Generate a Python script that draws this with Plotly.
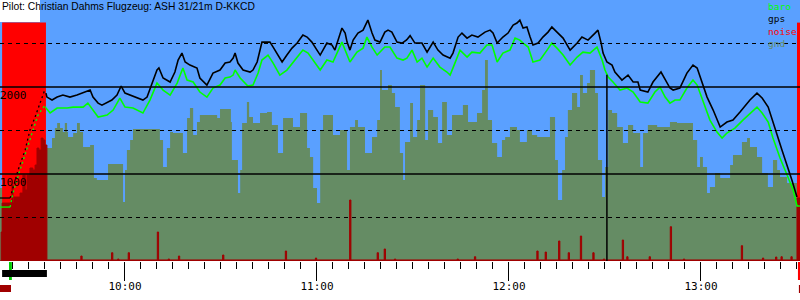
import plotly.graph_objects as go

# ---- time in minutes after 09:00, altitude in metres ----
gps_pre_t = [20.9, 24.1]
gps_pre_alt = [724, 724]
gps_climb_t = [24.1, 25.0, 26.6, 28.8, 30.3, 31.9, 33.4, 34.7, 35.3]
gps_climb_alt = [724, 850, 1046, 1276, 1505, 1655, 1815, 1942, 1930]
gps_t = [35.3, 35.6, 37.2, 38.8, 40.6, 42.8, 45.0, 46.9, 49.1, 50.0, 51.6, 52.8, 54.4, 55.9, 57.5, 58.8,
         60.0, 61.6, 63.8, 65.6, 66.9, 68.4, 70.0, 70.6, 71.9, 74.1, 75.6, 76.6, 77.8, 78.8, 80.3, 82.5,
         83.4, 85.6, 87.5, 89.7, 91.3, 92.8, 93.8, 94.4, 95.3, 96.9, 99.1, 100.0, 101.3, 102.8, 104.4,
         105.3, 106.3, 108.4, 109.1, 110.6, 112.2, 113.8, 115.6, 116.9, 118.4, 120.0, 121.0, 123.1, 124.7,
         125.6, 127.2, 127.8, 128.8, 129.4, 130.3, 131.3, 132.8, 134.4, 135.6, 135.9, 137.2, 138.1, 139.7,
         141.2, 142.2, 143.4, 145.0, 146.6, 148.0, 149.1, 150.6, 152.8, 154.4, 156.3, 157.8, 159.4, 161.6,
         162.5, 164.1, 165.3, 166.9, 168.4, 170.3, 172.5, 174.1, 175.0, 176.3, 178.1, 179.7, 181.3, 182.5,
         183.4, 184.4, 185.6, 186.6, 187.5, 189.1, 190.6, 192.2, 193.4, 195.0, 196.9, 199.1, 201.3, 202.8,
         204.7, 206.9, 207.8, 208.8, 209.4, 210.6, 212.2, 213.1, 215.3, 217.2, 218.8, 220.3, 221.0, 223.4,
         225.0, 227.5, 229.4, 230.3, 231.3, 233.4, 235.6, 237.5, 238.8, 240.3, 241.9, 243.8, 246.0, 248.1,
         250.0, 252.2, 255.3, 257.5, 259.1, 261.0, 262.5, 263.8, 265.3, 266.9, 268.4, 270.0]
gps_alt = [1930, 1884, 1850, 1884, 1907, 1884, 1907, 1930, 1965, 1884, 1815, 1792, 1827, 1850, 1907, 2011,
           1930, 1907, 1884, 1850, 1884, 2045, 2195, 2218, 2103, 2057, 2172, 2310, 2390, 2287, 2252, 2218,
           2103, 2022, 2160, 2195, 2275, 2287, 2332, 2390, 2275, 2195, 2172, 2195, 2287, 2516, 2516,
           2516, 2459, 2332, 2287, 2367, 2447, 2505, 2597, 2574, 2516, 2424, 2367, 2505, 2482,
           2424, 2620, 2677, 2620, 2516, 2424, 2539, 2620, 2654, 2746, 2769, 2620, 2539, 2516,
           2631, 2654, 2631, 2516, 2505, 2540, 2590, 2505, 2505, 2401, 2516, 2424, 2367, 2332,
           2390, 2574, 2620, 2562, 2597, 2574, 2631, 2654, 2620, 2505, 2574, 2620, 2712, 2735,
           2769, 2677, 2689, 2574, 2482, 2505, 2574, 2631, 2689, 2631, 2562, 2424, 2505, 2574,
           2539, 2620, 2654, 2505, 2390, 2287, 2252, 2172, 2080, 2137, 2057, 2057, 1965, 1942,
           2057, 2172, 2045, 1988, 1965, 1988, 2160, 2252, 2218, 2045, 1884, 1735, 1540, 1597,
           1620, 1712, 1850, 1930, 1873, 1769, 1586, 1448, 1275, 1103, 931, 735]

baro_pre_t = [20.9, 24.1]
baro_pre_alt = [620, 620]
baro_climb_t = [24.1, 25.0, 27.2, 29.4, 31.3, 32.8, 35.0, 35.3]
baro_climb_alt = [620, 781, 1046, 1298, 1505, 1678, 1792, 1758]
baro_t = [35.3, 36.6, 38.8, 41.9, 43.8, 46.9, 48.4, 50.0, 51.6, 54.4, 56.3, 58.4, 60.0, 62.5, 65.6, 67.8,
          70.0, 71.9, 74.1, 76.3, 78.1, 79.4, 81.3, 83.4, 85.6, 87.5, 89.7, 91.3, 92.8, 93.8, 94.4, 96.0,
          98.4, 100.0, 101.6, 102.8, 104.7, 106.3, 108.4, 110.6, 112.5, 115.6, 117.2, 118.8, 121.0, 123.1,
          125.0, 127.8, 128.8, 130.3, 132.5, 134.4, 135.6, 137.2, 138.8, 141.2, 142.8, 145.0, 146.9, 148.1,
          149.7, 151.3, 152.8, 154.4, 156.3, 158.4, 160.6, 161.6, 163.1, 164.7, 166.9, 168.4, 170.9, 173.1,
          174.7, 176.3, 178.1, 180.3, 181.9, 183.4, 184.4, 186.0, 187.5, 189.7, 191.9, 193.4, 195.0, 196.9,
          199.1, 201.3, 203.1, 205.3, 207.5, 209.1, 210.0, 211.0, 212.5, 214.7, 216.9, 218.8, 221.0, 223.4,
          225.6, 227.2, 228.8, 230.3, 231.9, 233.4, 235.6, 237.5, 238.8, 240.6, 242.8, 245.0, 246.6, 248.1,
          250.6, 253.1, 256.3, 257.5, 259.1, 261.0, 262.5, 264.7, 266.9, 268.8, 270.0, 270.9]
baro_alt = [1758, 1701, 1758, 1758, 1769, 1769, 1815, 1735, 1655, 1678, 1735, 1873, 1769, 1758, 1701, 1850,
            2045, 1965, 1907, 2045, 2218, 2080, 2057, 1942, 1884, 1988, 2022, 2103, 2114, 2137, 2195, 2103,
            2011, 2022, 2160, 2310, 2367, 2275, 2137, 2195, 2287, 2424, 2390, 2310, 2195, 2310,
            2287, 2516, 2424, 2287, 2401, 2447, 2574, 2459, 2367, 2459, 2459, 2332, 2310, 2332,
            2424, 2287, 2332, 2229, 2332, 2229, 2172, 2137, 2275, 2424, 2344, 2401, 2390, 2482,
            2482, 2287, 2390, 2424, 2562, 2539, 2505, 2459, 2287, 2310, 2424, 2505, 2447, 2367,
            2252, 2344, 2401, 2390, 2459, 2310, 2195, 2114, 2057, 1965, 1988, 1942, 1827, 1815,
            1942, 1999, 1884, 1815, 1850, 1850, 1988, 2080, 2022, 1850, 1620, 1482, 1413, 1471,
            1528, 1620, 1735, 1769, 1701, 1597, 1413, 1183, 988, 816, 632, 632]

gnd_t = [20.9, 35.6, 37.2, 38.1, 38.8, 39.7, 40.6, 41.2, 41.9, 42.2, 43.8, 45.0, 45.9, 46.9, 49.1, 50.3,
         51.2, 54.7, 59.4, 60.0, 60.6, 61.6, 62.5, 70.9, 71.9, 73.1, 74.1, 75.0, 78.1, 79.4, 80.3, 81.3,
         82.5, 83.4, 88.8, 89.7, 93.1, 93.4, 95.3, 96.0, 96.6, 98.1, 98.8, 100.0, 102.2, 104.4, 105.9,
         107.8, 109.4, 112.5, 114.7, 116.9, 117.8, 118.8, 120.0, 121.0, 121.9, 125.0, 127.2, 129.4, 130.3,
         131.9, 132.8, 135.0, 137.2, 138.8, 139.7, 140.3, 142.2, 143.4, 144.4, 145.9, 146.9, 147.5, 149.1,
         150.0, 151.3, 152.2, 153.8, 154.7, 156.3, 157.8, 159.1, 160.6, 162.2, 165.6, 167.2, 170.0, 171.6,
         172.5, 173.4, 174.7, 176.3, 177.8, 178.8, 180.3, 182.5, 183.4, 185.6, 187.2, 188.8, 192.8, 194.4,
         195.3, 196.6, 197.5, 198.4, 199.7, 201.3, 202.2, 203.1, 204.4, 205.3, 206.9, 207.8, 209.1, 210.0,
         211.0, 212.2, 213.8, 215.6, 217.2, 218.8, 221.0, 221.9, 223.4, 226.3, 230.3, 232.5, 237.5, 238.8,
         239.7, 240.6, 241.9, 242.8, 244.4, 246.0, 249.1, 250.0, 252.8, 254.4, 255.3, 257.5, 259.1, 260.9,
         262.5, 263.8, 264.7, 266.9, 270.9]
gnd_alt = [839, 1298, 1413, 1528, 1586, 1528, 1482, 1586, 1482, 1425, 1471, 1586, 1482, 1310, 1333, 954,
           931, 1115, 678, 1046, 1275, 1390, 1517, 1390, 1080, 1298, 1482, 1471, 1241, 1643, 1758, 1448,
           1597, 1678, 1643, 1747, 1597, 1160, 781, 1046, 1586, 1827, 1655, 1586, 1701, 1712, 1563,
           1241, 1643, 1540, 1701, 1298, 1195, 839, 666, 1505, 1678, 1448, 1505, 1046, 1540,
           1620, 1540, 1241, 1425, 1620, 2195, 1965, 2022, 1930, 1769, 1241, 931, 1367, 1815,
           1425, 1620, 2022, 1390, 1735, 1655, 1356, 1827, 1448, 1678, 1792, 1597, 1701, 1965,
           2310, 1620, 1356, 1195, 1390, 1425, 1540, 1505, 1367, 1505, 1448, 1425, 1655, 1160,
           701, 1046, 1425, 1735, 1930, 1769, 2137, 1930, 2045, 2195, 1930, 1160, 735, 1080,
           1735, 1701, 1540, 1356, 1563, 1471, 1080, 1471, 1563, 1540, 1597, 1586, 1390, 1080,
           1195, 1080, 781, 850, 1011, 954, 1103, 1218, 1367, 1413, 1310, 1195, 1011, 850,
           1160, 1046, 965, 896, 896]

# engine noise at the start (step samples) and isolated noise spikes later
noise_engine_t = [20.9, 21.3, 21.6, 24.4, 24.7, 25.0, 25.3, 27.2, 28.1, 28.8, 29.4, 30.3, 31.2, 31.9,
                  32.5, 33.1, 33.8, 34.4, 35.0, 35.6]
noise_engine_v = [0, 333, 666, 701, 873, 666, 735, 781, 988, 816, 988, 1069, 1046, 1103,
                  1298, 1275, 1413, 1390, 1333, 12]
spike_t = [46.2, 55.8, 57.7, 61.0, 70.1, 73.5, 76.7, 90.5, 110.1, 119.5, 130.2, 138.8, 141.0, 144.2,
           163.8, 169.2, 188.7, 191.3, 195.5, 198.5, 202.3, 206.2, 209.5, 215.4, 216.8, 223.8, 230.4,
           234.5, 252.6, 259.2, 263.3, 265.0, 268.1]
spike_v = [57, 95, 23, 95, 333, 23, 57, 69, 115, 34, 701, 95, 138, 23,
           23, 49, 115, 103, 230, 95, 287, 95, 23, 241, 49, 49, 394,
           23, 176, 34, 46, 49, 49]
noise_end_t = [270.0, 270.94]
noise_end_v = [724, 724]
noise_base = 12

engine_runs = [(21.6, 35.3), (270.0, 270.94)]
engine_top = 2740
takeoff_t = 24.2
finish_t = 210.6
finish_alt = 2140

hour_vals = [60, 120, 180, 240]
hour_text = ["10:00", "11:00", "12:00", "13:00"]
grid_solid = [1000, 2000]
grid_dashed = [500, 1500, 2500]
y_labels = [2000, 1000]
legend_items = [("baro", "#00ff00"), ("gps", "#000000"), ("noise", "#ff0000"), ("gnd", "#658c64")]

BLUE = "#5aa0ff"
GND = "#658c64"
DRED = "#a00000"
MONO = "DejaVu Sans Mono"

# build noise step series
nt = list(noise_engine_t)
nv = list(noise_engine_v)
for t, v in zip(spike_t, spike_v):
    nt += [t, t + 0.4]
    nv += [v, noise_base]
nt += noise_end_t
nv += noise_end_v

fig = go.Figure()
fig.add_trace(go.Scatter(x=gnd_t, y=gnd_alt, mode="lines", line=dict(shape="hv", width=0, color=GND),
                         fill="tozeroy", fillcolor=GND))
for a, b in engine_runs:
    fig.add_trace(go.Scatter(x=[a, b], y=[engine_top, engine_top], mode="lines", line=dict(width=0, color="#ff0000"),
                             fill="tozeroy", fillcolor="#ff0000"))
fig.add_trace(go.Scatter(x=nt, y=nv, mode="lines", line=dict(shape="hv", width=1, color=DRED),
                         fill="tozeroy", fillcolor=DRED))
fig.add_trace(go.Scatter(x=baro_pre_t, y=baro_pre_alt, mode="lines", line=dict(color="#00ff00", width=1.3)))
fig.add_trace(go.Scatter(x=baro_climb_t, y=baro_climb_alt, mode="lines",
                         line=dict(color="#00ff00", width=1.3, dash="2px,3px")))
fig.add_trace(go.Scatter(x=baro_t, y=baro_alt, mode="lines", line=dict(color="#00ff00", width=1.6)))
fig.add_trace(go.Scatter(x=gps_pre_t, y=gps_pre_alt, mode="lines", line=dict(color="#000000", width=1.3)))
fig.add_trace(go.Scatter(x=gps_climb_t, y=gps_climb_alt, mode="lines",
                         line=dict(color="#000000", width=1.3, dash="2px,3px")))
fig.add_trace(go.Scatter(x=gps_t, y=gps_alt, mode="lines", line=dict(color="#000000", width=1.6)))

shapes = []
for g in grid_solid:
    shapes.append(dict(type="line", xref="paper", x0=0, x1=1, yref="y", y0=g, y1=g,
                       line=dict(color="black", width=1.3), layer="above"))
for g in grid_dashed:
    shapes.append(dict(type="line", xref="paper", x0=0, x1=1, yref="y", y0=g, y1=g,
                       line=dict(color="black", width=1.2, dash="4px,4px"), layer="above"))
shapes.append(dict(type="line", xref="x", x0=finish_t, x1=finish_t, yref="y", y0=0, y1=finish_alt,
                   line=dict(color="black", width=1.5), layer="above"))
# white box top-left
shapes.append(dict(type="rect", xref="paper", x0=0, x1=40 / 800, yref="paper", y0=1 - 22 / 261, y1=1.2,
                   fillcolor="white", line=dict(width=0), layer="above"))


def py(px):
    return 1 - px / 261


shapes.append(dict(type="rect", xref="x", x0=takeoff_t - 0.45, x1=takeoff_t + 0.45, yref="paper",
                   y0=py(280), y1=py(262), fillcolor="#00cc00", line=dict(width=0)))
shapes.append(dict(type="rect", xref="x", x0=engine_runs[0][0], x1=engine_runs[0][1] + 0.3, yref="paper",
                   y0=py(277), y1=py(270), fillcolor="black", line=dict(width=0)))
shapes.append(dict(type="rect", xref="paper", x0=0, x1=11 / 800, yref="paper",
                   y0=py(292), y1=py(285), fillcolor=DRED, line=dict(width=0)))
shapes.append(dict(type="rect", xref="x", x0=engine_runs[1][0] + 0.3, x1=engine_runs[1][1], yref="paper",
                   y0=py(280), y1=py(262), fillcolor="#ff0000", line=dict(width=0)))
shapes.append(dict(type="rect", xref="x", x0=engine_runs[1][0] + 0.6, x1=engine_runs[1][1], yref="paper",
                   y0=py(293), y1=py(285), fillcolor=DRED, line=dict(width=0)))

annotations = [dict(text="Pilot: Christian Dahms Flugzeug: ASH 31/21m D-KKCD", xref="paper", yref="paper",
                    x=0, y=1, xanchor="left", yanchor="top", showarrow=False, yshift=1,
                    font=dict(family="Liberation Sans", size=10.3, color="black"))]
for v in y_labels:
    annotations.append(dict(text=str(v), xref="paper", yref="y", x=0, y=v, xanchor="left", yanchor="top",
                            showarrow=False, xshift=-2, yshift=0, font=dict(family=MONO, size=11, color="black")))
legend_text = "<br>".join(f"<span style='color:{c}'>{n}</span>" for n, c in legend_items)
annotations.append(dict(text=legend_text, xref="paper", yref="paper", x=766 / 800, y=1, xanchor="left",
                        yanchor="top", align="left", showarrow=False, yshift=1,
                        font=dict(family=MONO, size=9.5, color="black")))

fig.update_layout(
    width=800, height=300, margin=dict(l=0, r=0, t=0, b=39),
    plot_bgcolor=BLUE, paper_bgcolor="white", showlegend=False,
    shapes=shapes, annotations=annotations,
    xaxis=dict(range=[20.94, 270.94], tickvals=hour_vals, ticktext=hour_text, ticks="outside", ticklen=19,
               tickwidth=1, tickcolor="black", showgrid=False, zeroline=False, showline=False,
               ticklabelstandoff=-4,
               tickfont=dict(family=MONO, size=11, color="black"),
               minor=dict(tick0=0, dtick=5, ticks="outside", ticklen=7, tickwidth=1, tickcolor="black",
                          showgrid=False)),
    yaxis=dict(range=[0, 3000], showticklabels=False, ticks="", showgrid=False, zeroline=False, showline=False),
)
fig.write_html("out.html")
